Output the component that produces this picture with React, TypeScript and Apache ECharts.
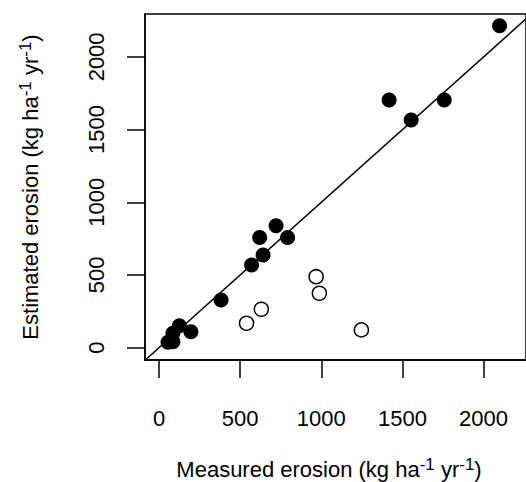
import React, { useEffect, useRef } from "react";
import * as echarts from "echarts";

const xTicks = [0, 500, 1000, 1500, 2000];
const yTicks = [0, 500, 1000, 1500, 2000];

// Filled circles: [measured, estimated]
const filledPoints: [number, number][] = [
  [55, 37],
  [85, 41],
  [85, 99],
  [125, 151],
  [196, 110],
  [382, 328],
  [570, 569],
  [620, 757],
  [641, 638],
  [721, 839],
  [792, 757],
  [1418, 1704],
  [1554, 1566],
  [1758, 1704],
  [2099, 2215],
];

// Open circles: [measured, estimated]
const openPoints: [number, number][] = [
  [539, 168],
  [630, 264],
  [968, 488],
  [988, 374],
  [1247, 122],
];

const oneToOne: [number, number][] = [
  [-300, -300],
  [2500, 2500],
];

const FONT = "'Liberation Sans', Arial, Helvetica, sans-serif";

export default function App() {
  const ref = useRef<HTMLDivElement>(null);
  useEffect(() => {
    if (!ref.current) return;
    const chart = echarts.init(ref.current, null, { renderer: "svg" });
    const rich = {
      m: { fontSize: 22, fontFamily: FONT, color: "#000", lineHeight: 26 },
      s: {
        fontSize: 17,
        fontFamily: FONT,
        color: "#000",
        lineHeight: 10,
        verticalAlign: "top",
      },
    };
    const plain = (v: number) => String(v);
    chart.setOption({
      animation: false,
      backgroundColor: "#fff",
      grid: {
        left: 145,
        top: 14,
        right: -7,
        bottom: 122,
        show: true,
        borderColor: "#000",
        borderWidth: 1.5,
        backgroundColor: "transparent",
      },
      xAxis: {
        type: "value",
        min: -87,
        max: 2262,
        splitLine: { show: false },
        axisLine: { show: true, onZero: false, lineStyle: { color: "#000", width: 1.5 } },
        axisTick: {
          show: true,
          customValues: xTicks,
          length: 18,
          lineStyle: { color: "#000", width: 1.5 },
        },
        axisLabel: {
          customValues: xTicks,
          formatter: plain,
          margin: 47,
          fontSize: 22,
          fontFamily: FONT,
          color: "#000",
        },
      },
      yAxis: {
        type: "value",
        min: -85,
        max: 2295,
        splitLine: { show: false },
        axisLine: { show: true, onZero: false, lineStyle: { color: "#000", width: 1.5 } },
        axisTick: {
          show: true,
          customValues: yTicks,
          length: 18,
          lineStyle: { color: "#000", width: 1.5 },
        },
        axisLabel: {
          customValues: yTicks,
          formatter: plain,
          rotate: 90,
          margin: 38,
          fontSize: 22,
          fontFamily: FONT,
          color: "#000",
        },
      },
      series: [
        {
          type: "line",
          data: oneToOne,
          symbol: "none",
          clip: true,
          lineStyle: { color: "#000", width: 1.5 },
          z: 1,
        },
        {
          type: "scatter",
          data: filledPoints,
          symbol: "circle",
          symbolSize: 15,
          itemStyle: { color: "#000", opacity: 1 },
          z: 2,
        },
        {
          type: "scatter",
          data: openPoints,
          symbol: "circle",
          symbolSize: 14,
          itemStyle: { color: "#fff", borderColor: "#000", borderWidth: 1.5, opacity: 1 },
          z: 2,
        },
      ],
      graphic: [
        {
          type: "text",
          x: 329,
          y: 469,
          style: {
            text: "{m|Measured erosion (kg ha}{s|-1}{m| yr}{s|-1}{m|)}",
            rich,
            align: "center",
            verticalAlign: "middle",
          },
        },
        {
          type: "text",
          x: 30,
          y: 187,
          rotation: Math.PI / 2,
          style: {
            text: "{m|Estimated erosion (kg ha}{s|-1}{m| yr}{s|-1}{m|)}",
            rich,
            align: "center",
            verticalAlign: "middle",
          },
        },
      ],
    });
    return () => chart.dispose();
  }, []);
  return (
    <div
      ref={ref}
      style={{ position: "fixed", left: 0, top: 0, width: 526, height: 482 }}
    />
  );
}
